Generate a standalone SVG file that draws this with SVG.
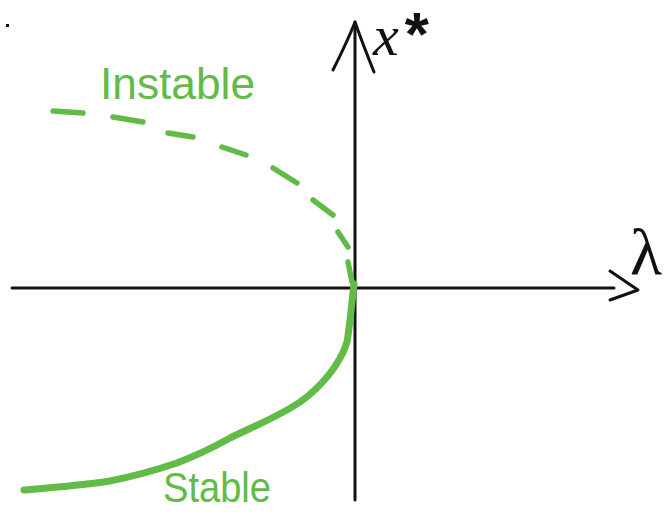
<svg xmlns="http://www.w3.org/2000/svg" width="667" height="515" viewBox="0 0 667 515">
<style>
.axis{fill:none;stroke:#111;stroke-width:3;stroke-linecap:round;stroke-linejoin:round}
.dash{fill:none;stroke:#62bb46;stroke-width:5.5;stroke-linecap:round}
.solid{fill:none;stroke:#62bb46;stroke-width:7;stroke-linecap:round;stroke-linejoin:round}
.glabel{fill:#62bb46;font-family:"Liberation Sans",Arial,sans-serif}
.blabel{fill:#111;font-family:"Liberation Serif","Times New Roman",serif}
</style>
<rect width="667" height="515" fill="#fff"/>
<rect x="6" y="24" width="3" height="3" fill="#111"/>
<g id="axes">
<path class="axis" d="M12 288 L614 288"/>
<path class="axis" d="M610 271 L638 290 L610 300"/>
<path class="axis" d="M355 500 L355 22"/>
<path class="axis" d="M333 70 Q348 40 355 22 Q362 42 374 72"/>
</g>
<g id="unstable-branch">
<path class="dash" d="M53 111 L83 113"/>
<path class="dash" d="M113 117 L143 122"/>
<path class="dash" d="M168 133 L193 137"/>
<path class="dash" d="M222 147 L246 155"/>
<path class="dash" d="M273 168 L297 183"/>
<path class="dash" d="M313 200 L333 215"/>
<path class="dash" d="M338 232 L348 247"/>
<path class="dash" d="M348 262 L352 282"/>
</g>
<g id="stable-branch">
<path class="solid" d="M354 284 C352 300 350 325 347 342 C340 365 320 388 300 402 C280 416 250 428 230 438 C205 452 190 458 177 463 C150 472 130 477 110 481 C85 485 60 487 24 490"/>
</g>
<g id="labels">
<text class="glabel" x="100" y="99" font-size="44" textLength="155" lengthAdjust="spacingAndGlyphs">Instable</text>
<text class="glabel" x="163" y="502" font-size="42" textLength="108" lengthAdjust="spacingAndGlyphs">Stable</text>
<text class="blabel" x="373" y="55" font-size="58"><tspan font-style="italic">x</tspan><tspan font-family="Liberation Sans,Arial,sans-serif" font-size="62" dx="6" font-weight="bold">*</tspan></text>
<text class="blabel" x="630" y="274" font-size="66">λ</text>
</g>
</svg>
